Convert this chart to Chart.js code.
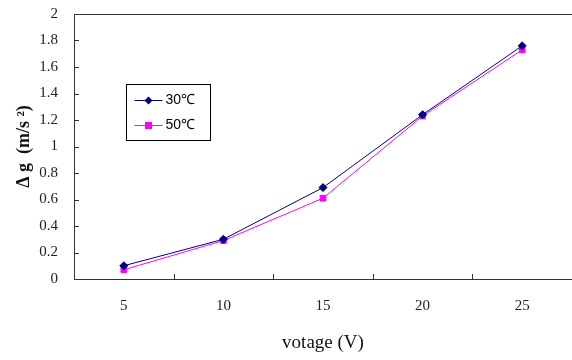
<!DOCTYPE html>
<html lang="en">
<head>
    <meta charset="UTF-8">
    <title>votage vs delta g</title>
    <script src="https://cdn.jsdelivr.net/npm/chart.js"></script>
    <style>
        body { margin: 0; background: #fff; }
        #wrap { width: 572px; height: 360px; }
    </style>
</head>
<body>
    <div id="wrap"><canvas id="chart"></canvas></div>
    <script>
        const voltages = ['5', '10', '15', '20', '25'];
        const dg30 = [0.10, 0.30, 0.69, 1.24, 1.76];
        const dg50 = [0.07, 0.29, 0.61, 1.23, 1.73];
        const seriesNames = ['30\u2103', '50\u2103'];

        const serif = '"Liberation Serif", "Times New Roman", serif';

        // inside tick marks, frame and boxed legend like the original sheet
        const frame = {
            id: 'frame',
            afterDraw(chart) {
                const ctx = chart.ctx;
                const a = chart.chartArea;
                const x = chart.scales.x, y = chart.scales.y;
                ctx.save();
                ctx.strokeStyle = '#333';
                ctx.lineWidth = 1;
                ctx.beginPath();
                ctx.moveTo(a.left + 0.5, a.top + 0.5);
                ctx.lineTo(a.right, a.top + 0.5);
                ctx.moveTo(a.left + 0.5, a.top);
                ctx.lineTo(a.left + 0.5, a.bottom + 0.5);
                ctx.lineTo(a.right, a.bottom + 0.5);
                y.ticks.forEach(t => {
                    const py = Math.round(y.getPixelForValue(t.value)) + 0.5;
                    ctx.moveTo(a.left, py);
                    ctx.lineTo(a.left + 5, py);
                });
                for (let i = 1; i < voltages.length; i++) {
                    const px = Math.round((x.getPixelForValue(i - 1) + x.getPixelForValue(i)) / 2) + 0.5;
                    ctx.moveTo(px, a.bottom);
                    ctx.lineTo(px, a.bottom - 5);
                }
                ctx.stroke();

                // legend box
                const bx = 126.5, by = 84.5, bw = 84, bh = 56;
                ctx.fillStyle = '#fff';
                ctx.fillRect(bx, by, bw, bh);
                ctx.strokeStyle = '#000';
                ctx.strokeRect(bx, by, bw, bh);
                ctx.font = '14px ' + '"Liberation Sans", Arial, sans-serif';
                ctx.textBaseline = 'middle';
                chart.data.datasets.forEach((ds, i) => {
                    const ly = by + 16 + i * 25;
                    ctx.strokeStyle = ds.borderColor;
                    ctx.beginPath();
                    ctx.moveTo(bx + 8, ly);
                    ctx.lineTo(bx + 36, ly);
                    ctx.stroke();
                    ctx.fillStyle = ds.borderColor;
                    ctx.beginPath();
                    if (i === 0) {
                        ctx.moveTo(bx + 22, ly - 4);
                        ctx.lineTo(bx + 26, ly);
                        ctx.lineTo(bx + 22, ly + 4);
                        ctx.lineTo(bx + 18, ly);
                        ctx.closePath();
                    } else {
                        ctx.rect(bx + 18.5, ly - 3.5, 7, 7);
                    }
                    ctx.fill();
                    ctx.fillStyle = '#000';
                    ctx.fillText(ds.label, bx + 39, ly);
                });
                ctx.restore();
            }
        };

        new Chart(document.getElementById('chart'), {
            type: 'line',
            data: {
                labels: voltages,
                datasets: [{
                    label: seriesNames[0],
                    data: dg30,
                    borderColor: '#000080',
                    backgroundColor: '#000080',
                    borderWidth: 1,
                    pointStyle: 'rectRot',
                    pointRadius: 4,
                    tension: 0
                }, {
                    label: seriesNames[1],
                    data: dg50,
                    borderColor: '#ff00ff',
                    backgroundColor: '#ff00ff',
                    borderWidth: 1,
                    pointStyle: 'rect',
                    pointRadius: 4,
                    tension: 0
                }]
            },
            options: {
                responsive: true,
                maintainAspectRatio: false,
                animation: false,
                layout: { autoPadding: false, padding: { top: 14, right: 0, left: 0, bottom: 0 } },
                plugins: {
                    legend: { display: false },
                    tooltip: { enabled: false }
                },
                scales: {
                    x: {
                        offset: true,
                        grid: { display: false, drawTicks: false, offset: true },
                        border: { display: false },
                        ticks: { color: '#222', font: { family: serif, size: 15 }, padding: 18 },
                        title: {
                            display: true,
                            text: 'votage (V)',
                            color: '#111',
                            font: { family: serif, size: 19 },
                            padding: { top: 12, bottom: 6 }
                        },
                        afterFit(scale) {
                            scale.height = 81;
                            scale.paddingLeft = 0;
                            scale.paddingRight = 0;
                        }
                    },
                    y: {
                        min: 0,
                        max: 2,
                        grid: { display: false, drawTicks: false },
                        border: { display: false },
                        ticks: {
                            stepSize: 0.2,
                            color: '#222',
                            font: { family: serif, size: 15 },
                            padding: 16,
                            callback: v => String(Math.round(v * 10) / 10)
                        },
                        title: {
                            display: true,
                            text: '\u0394 g  (m/s \u00b2)',
                            color: '#111',
                            font: { family: serif, size: 18, weight: 'bold' },
                            padding: { top: 14, bottom: 0 }
                        },
                        afterFit(scale) {
                            scale.width = 74;
                            scale.paddingTop = 0;
                            scale.paddingBottom = 0;
                        }
                    }
                }
            },
            plugins: [frame]
        });
    </script>
</body>
</html>
